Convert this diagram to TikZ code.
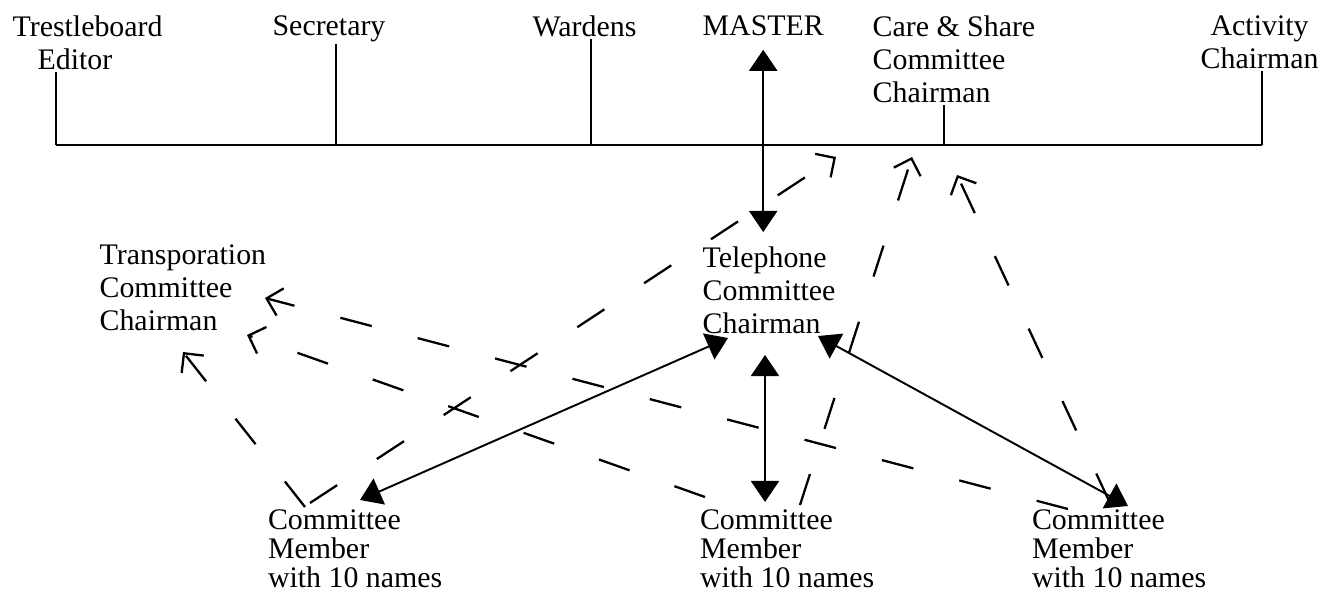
\documentclass[tikz,border=0pt]{standalone}
\usepackage{fontspec}
\setmainfont{Liberation Serif}
\usetikzlibrary{arrows.meta}

\tikzset{
    title/.style={inner sep=0pt, outer sep=1.5pt, anchor=north west, font=\fontsize{17}{18.8}\selectfont},
    box/.style={title, align=left},
    member/.style={box, outer sep=0pt, font=\fontsize{17}{16.5}\selectfont},
    rail/.style={line width=1.6pt},
    riser/.style={line width=1.1pt},
    twoway/.style={line width=1.1pt, {Triangle[width=16pt,length=12pt]}-{Triangle[width=16pt,length=12pt]}},
    dashto/.style={line width=1.3pt, dash pattern=on 0.65cm off 0.95cm, -{Straight Barb[length=8pt,width=16pt]}}
}

\begin{document}
\begin{tikzpicture}[x=0.02cm, y=-0.02cm]
    \useasboundingbox (0,0) rectangle (1321,594);

    % top row
    \node (ed) [box] at (10,13) {Trestleboard\\\hspace*{0.5cm}Editor};
    \node (sec) [title] at (270,13) {Secretary};
    \node (war) [title] at (530,13) {Wardens};
    \node (master) [title] at (700,13) {MASTER};
    \node (care) [box] at (870,13) {Care \& Share\\Committee\\Chairman};
    \node (act) [box] at (1198,13) {\hspace*{0.2cm}Activity\\Chairman};

    \coordinate (b1) at (56,145);
    \coordinate (b2) at (336,145);
    \coordinate (b3) at (591,145);
    \coordinate (b4) at (944,145);
    \coordinate (b5) at (1262,145);

    \draw[rail] (b1) -- (b5);
    \draw[riser] (b1 |- ed.south) -- (b1);
    \draw[riser] (b2 |- sec.south) -- (b2);
    \draw[riser] (b3 |- war.south) -- (b3);
    \draw[riser] (b4 |- care.south) -- (b4);
    \draw[riser] (b5 |- act.south) -- (b5);

    % committees
    \node (trans) [box] at (97,242) {Transporation\\Committee\\Chairman};
    \node (tel) [box] at (700,244) {Telephone\\Committee\\Chairman};
    \node (lm) [member] at (268,510) {Committee\\Member\\with 10 names};
    \node (mm) [member] at (700,510) {Committee\\Member\\with 10 names};
    \node (rm) [member] at (1032,510) {Committee\\Member\\with 10 names};

    \coordinate (up1) at (836,157);
    \coordinate (up2) at (912,157);
    \coordinate (up3) at (957,175);

    \path[twoway] (master.south) edge [shorten <=6.5pt, shorten >=6.8pt] (master.south |- tel.north)
              ([shift={(28,94)}]tel.north west) edge ([shift={(92,-10)}]lm.north west)
              ([shift={(65,111)}]tel.north west) edge ([shift={(65,-8)}]mm.north west)
              ([shift={(118,92)}]tel.north west) edge ([shift={(96,-4)}]rm.north west);

    \path[dashto] ([shift={(42,-7)}]lm.north west) edge (up1)
              ([shift={(100,-5)}]mm.north west) edge (up2)
              ([shift={(78,-7)}]rm.north west) edge (up3)
              ([shift={(37,-3)}]lm.north west) edge ([shift={(86,110)}]trans.north west)
              ([shift={(5,-13)}]mm.north west) edge ([shift={(150,93)}]trans.north west)
              ([shift={(36,-1)}]rm.north west) edge ([shift={(168,56)}]trans.north west);

\end{tikzpicture}
\end{document}
